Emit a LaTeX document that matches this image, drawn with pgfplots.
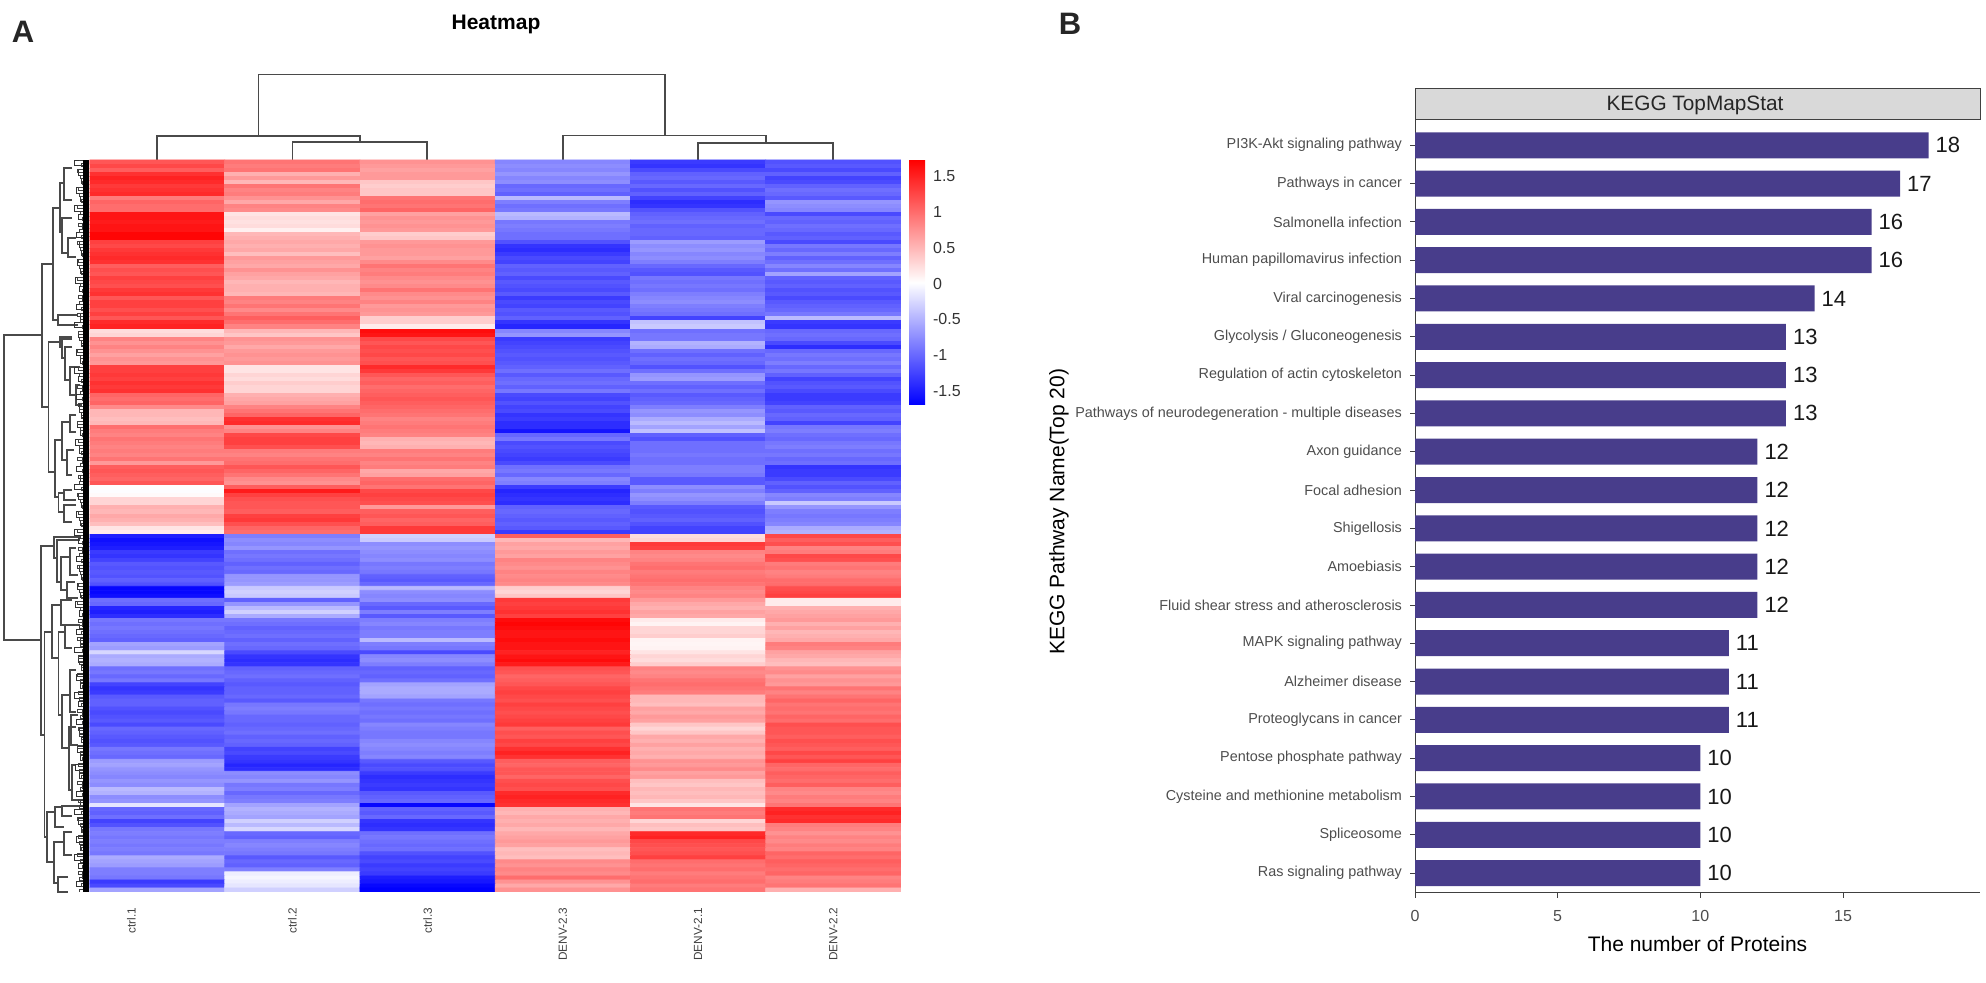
\documentclass[border=0pt]{standalone}
\usepackage{fontspec}
\setmainfont{Liberation Sans}
\usepackage{pgfplots}
\pgfplotsset{compat=1.18}
\definecolor{barblue}{HTML}{483D8B}
\definecolor{treegray}{HTML}{4A4A4A}
\definecolor{labgray}{HTML}{4D4D4D}
\pgfplotsset{/pgf/number format/assume math mode=true}
\begin{document}
\begin{tikzpicture}
\path[use as bounding box] (0pt,0pt) rectangle (993pt,491.5pt);
% page-sized axis in reference pixels: dendrograms, strip, titles
\begin{axis}[
  at={(0pt,0pt)}, anchor=south west, scale only axis,
  width=993pt, height=491.5pt,
  xmin=0, xmax=1986, ymin=0, ymax=983, y dir=reverse,
  hide axis, clip=false, unbounded coords=jump
]
% column tree
\addplot[treegray, line width=0.75pt, line join=miter, mark=none] coordinates {
(258.5,136) (258.5,74.5) (665,74.5) (665,135.7) (nan,nan)
(157,160) (157,136) (360,136) (360,142) (nan,nan)
(292.5,160) (292.5,142) (427,142) (427,160) (nan,nan)
(563,160) (563,135.7) (766,135.7) (766,143) (nan,nan)
(698,160) (698,143) (833,143) (833,160)
};
% row tree, upper branches
\addplot[treegray, line width=0.65pt, mark=none] coordinates {
(42,335) (4,335) (4,640) (41,640) (nan,nan)
(53,264) (42,264) (42,407) (48.5,407) (nan,nan)
(60,208) (53,208) (53,320) (58,320) (nan,nan)
(64,183) (60,183) (60,232) (62,232) (nan,nan)
(72,168) (64,168) (64,200) (72,200) (nan,nan)
(72,218) (62,218) (62,253) (68,253) (nan,nan)
(76,238) (68,238) (68,257) (76,257) (nan,nan)
(78,315) (58,315) (58,325) (78,325) (nan,nan)
(60,342) (48.5,342) (48.5,472) (55,472) (nan,nan)
(72,337) (60,337) (60,347) (62,347) (nan,nan)
(72,339) (62,339) (62,358) (65,358) (nan,nan)
(72,347) (65,347) (65,380) (70,380) (nan,nan)
(80,367) (70,367) (70,395) (76,395) (nan,nan)
(80,385) (76,385) (76,405) (82,405) (nan,nan)
(62,440) (55,440) (55,497) (58.5,497) (nan,nan)
(70,422) (62,422) (62,460) (67,460) (nan,nan)
(76,415) (70,415) (70,432) (76,432) (nan,nan)
(74,450) (67,450) (67,475) (72,475) (nan,nan)
(64,493) (58.5,493) (58.5,512) (64,512) (nan,nan)
(72,490) (64,490) (64,500) (76,500) (nan,nan)
(76,505) (64,505) (64,522) (72,522) (nan,nan)
(54,546) (41,546) (41,735) (44.5,735) (nan,nan)
(80,537) (54,537) (54,558) (57,558) (nan,nan)
(80,540) (57,540) (57,582) (61,582) (nan,nan)
(70,557) (61,557) (61,590) (67,590) (nan,nan)
(76,548) (70,548) (70,575) (78,575) (nan,nan)
(75,582) (67,582) (67,598) (78,598) (nan,nan)
(52,632) (44.5,632) (44.5,837) (47,837) (nan,nan)
(61,605) (52,605) (52,658) (58.5,658) (nan,nan)
(72,600) (61,600) (61,625) (66,625) (nan,nan)
(65,632) (58.5,632) (58.5,715) (62,715) (nan,nan)
(80,625) (65,625) (65,648) (72,648) (nan,nan)
(70,695) (62,695) (62,748) (69,748) (nan,nan)
(76,670) (70,670) (70,712) (76,712) (nan,nan)
(76,727) (69,727) (69,790) (72,790) (nan,nan)
(78,715) (71,715) (71,745) (78,745) (nan,nan)
(76,765) (72,765) (72,800) (80,800) (nan,nan)
(55,812) (47,812) (47,862) (54,862) (nan,nan)
(62,807) (55,807) (55,827) (64,827) (nan,nan)
(80,806) (62,806) (62,816) (72,816) (nan,nan)
(64,842) (54,842) (54,883) (58,883) (nan,nan)
(72,832) (64,832) (64,855) (72,855) (nan,nan)
(68,877) (58,877) (58,892) (68,892)
};
% row tree, leaf brackets
\addplot[black!80, line width=0.5pt, mark=none] coordinates {
(89,161)(74,161)(74,166)(89,166) (nan,nan) (89,170)(78,170)(78,176)(89,176) (nan,nan)
(89,179)(81,179)(81,184)(89,184) (nan,nan) (89,188)(76,188)(76,194)(89,194) (nan,nan)
(89,197)(80,197)(80,202)(89,202) (nan,nan) (89,206)(74,206)(74,212)(89,212) (nan,nan)
(89,215)(78,215)(78,220)(89,220) (nan,nan) (89,224)(82,224)(82,230)(89,230) (nan,nan)
(89,233)(76,233)(76,238)(89,238) (nan,nan) (89,242)(79,242)(79,248)(89,248) (nan,nan)
(89,251)(81,251)(81,256)(89,256) (nan,nan) (89,260)(77,260)(77,266)(89,266) (nan,nan)
(89,269)(80,269)(80,274)(89,274) (nan,nan) (89,278)(75,278)(75,284)(89,284) (nan,nan)
(89,287)(79,287)(79,292)(89,292) (nan,nan) (89,296)(82,296)(82,302)(89,302) (nan,nan)
(89,305)(76,305)(76,310)(89,310) (nan,nan) (89,314)(80,314)(80,320)(89,320) (nan,nan)
(89,323)(74,323)(74,328)(89,328) (nan,nan) (89,332)(78,332)(78,338)(89,338) (nan,nan)
(89,341)(81,341)(81,346)(89,346) (nan,nan) (89,350)(76,350)(76,356)(89,356) (nan,nan)
(89,359)(80,359)(80,364)(89,364) (nan,nan) (89,368)(74,368)(74,374)(89,374) (nan,nan)
(89,377)(78,377)(78,382)(89,382) (nan,nan) (89,386)(82,386)(82,392)(89,392) (nan,nan)
(89,395)(76,395)(76,400)(89,400) (nan,nan) (89,404)(79,404)(79,410)(89,410) (nan,nan)
(89,413)(81,413)(81,418)(89,418) (nan,nan) (89,422)(77,422)(77,428)(89,428) (nan,nan)
(89,431)(80,431)(80,436)(89,436) (nan,nan) (89,440)(75,440)(75,446)(89,446) (nan,nan)
(89,449)(79,449)(79,454)(89,454) (nan,nan) (89,458)(82,458)(82,464)(89,464) (nan,nan)
(89,467)(76,467)(76,472)(89,472) (nan,nan) (89,476)(80,476)(80,482)(89,482) (nan,nan)
(89,485)(74,485)(74,490)(89,490) (nan,nan) (89,494)(78,494)(78,500)(89,500) (nan,nan)
(89,503)(81,503)(81,508)(89,508) (nan,nan) (89,512)(76,512)(76,518)(89,518) (nan,nan)
(89,521)(80,521)(80,526)(89,526) (nan,nan) (89,530)(74,530)(74,536)(89,536) (nan,nan)
(89,539)(78,539)(78,544)(89,544) (nan,nan) (89,548)(82,548)(82,554)(89,554) (nan,nan)
(89,557)(76,557)(76,562)(89,562) (nan,nan) (89,566)(79,566)(79,572)(89,572) (nan,nan)
(89,575)(81,575)(81,580)(89,580) (nan,nan) (89,584)(77,584)(77,590)(89,590) (nan,nan)
(89,593)(80,593)(80,598)(89,598) (nan,nan) (89,602)(75,602)(75,608)(89,608) (nan,nan)
(89,611)(79,611)(79,616)(89,616) (nan,nan) (89,620)(82,620)(82,626)(89,626) (nan,nan)
(89,629)(76,629)(76,634)(89,634) (nan,nan) (89,638)(80,638)(80,644)(89,644) (nan,nan)
(89,647)(74,647)(74,652)(89,652) (nan,nan) (89,656)(78,656)(78,662)(89,662) (nan,nan)
(89,665)(81,665)(81,670)(89,670) (nan,nan) (89,674)(76,674)(76,680)(89,680) (nan,nan)
(89,683)(80,683)(80,688)(89,688) (nan,nan) (89,692)(74,692)(74,698)(89,698) (nan,nan)
(89,701)(78,701)(78,706)(89,706) (nan,nan) (89,710)(82,710)(82,716)(89,716) (nan,nan)
(89,719)(76,719)(76,724)(89,724) (nan,nan) (89,728)(79,728)(79,734)(89,734) (nan,nan)
(89,737)(81,737)(81,742)(89,742) (nan,nan) (89,746)(77,746)(77,752)(89,752) (nan,nan)
(89,755)(80,755)(80,760)(89,760) (nan,nan) (89,764)(75,764)(75,770)(89,770) (nan,nan)
(89,773)(79,773)(79,778)(89,778) (nan,nan) (89,782)(82,782)(82,788)(89,788) (nan,nan)
(89,791)(76,791)(76,796)(89,796) (nan,nan) (89,800)(80,800)(80,806)(89,806) (nan,nan)
(89,809)(74,809)(74,814)(89,814) (nan,nan) (89,818)(78,818)(78,824)(89,824) (nan,nan)
(89,827)(81,827)(81,832)(89,832) (nan,nan) (89,836)(76,836)(76,842)(89,842) (nan,nan)
(89,845)(80,845)(80,850)(89,850) (nan,nan) (89,854)(74,854)(74,860)(89,860) (nan,nan)
(89,863)(78,863)(78,868)(89,868) (nan,nan) (89,872)(82,872)(82,878)(89,878) (nan,nan)
(89,881)(76,881)(76,886)(89,886)
};
% finest splits, a staircase of small steps next to the leaves
\addplot[const plot, black!75, line width=0.45pt, mark=none] coordinates {
(79,160)(84,163)(81,166)(85,169)(77,172)(84,175)(80,178)(85,181)(82,184)(84,187)(78,190)(85,193)
(79,196)(84,199)(81,202)(85,205)(77,208)(84,211)(80,214)(85,217)(82,220)(84,223)(78,226)(85,229)
(79,232)(84,235)(81,238)(85,241)(77,244)(84,247)(80,250)(85,253)(82,256)(84,259)(78,262)(85,265)
(79,268)(84,271)(81,274)(85,277)(77,280)(84,283)(80,286)(85,289)(82,292)(84,295)(78,298)(85,301)
(79,304)(84,307)(81,310)(85,313)(77,316)(84,319)(80,322)(85,325)(82,328)(84,331)(78,334)(85,337)
(79,340)(84,343)(81,346)(85,349)(77,352)(84,355)(80,358)(85,361)(82,364)(84,367)(78,370)(85,373)
(79,376)(84,379)(81,382)(85,385)(77,388)(84,391)(80,394)(85,397)(82,400)(84,403)(78,406)(85,409)
(79,412)(84,415)(81,418)(85,421)(77,424)(84,427)(80,430)(85,433)(82,436)(84,439)(78,442)(85,445)
(79,448)(84,451)(81,454)(85,457)(77,460)(84,463)(80,466)(85,469)(82,472)(84,475)(78,478)(85,481)
(79,484)(84,487)(81,490)(85,493)(77,496)(84,499)(80,502)(85,505)(82,508)(84,511)(78,514)(85,517)
(79,520)(84,523)(81,526)(85,529)(77,532)(84,535)(80,538)(85,541)(82,544)(84,547)(78,550)(85,553)
(79,556)(84,559)(81,562)(85,565)(77,568)(84,571)(80,574)(85,577)(82,580)(84,583)(78,586)(85,589)
(79,592)(84,595)(81,598)(85,601)(77,604)(84,607)(80,610)(85,613)(82,616)(84,619)(78,622)(85,625)
(79,628)(84,631)(81,634)(85,637)(77,640)(84,643)(80,646)(85,649)(82,652)(84,655)(78,658)(85,661)
(79,664)(84,667)(81,670)(85,673)(77,676)(84,679)(80,682)(85,685)(82,688)(84,691)(78,694)(85,697)
(79,700)(84,703)(81,706)(85,709)(77,712)(84,715)(80,718)(85,721)(82,724)(84,727)(78,730)(85,733)
(79,736)(84,739)(81,742)(85,745)(77,748)(84,751)(80,754)(85,757)(82,760)(84,763)(78,766)(85,769)
(79,772)(84,775)(81,778)(85,781)(77,784)(84,787)(80,790)(85,793)(82,796)(84,799)(78,802)(85,805)
(79,808)(84,811)(81,814)(85,817)(77,820)(84,823)(80,826)(85,829)(82,832)(84,835)(78,838)(85,841)
(79,844)(84,847)(81,850)(85,853)(77,856)(84,859)(80,862)(85,865)(82,868)(84,871)(78,874)(85,877)
(79,880)(84,883)(81,886)(85,889)(79,892)
};
% leaf ends merge into a black band
\addplot[black, line width=3pt, mark=none] coordinates {(86,160) (86,892)};
% facet strip of panel B
\addplot[fill=gray!30, draw=black!75, line width=0.5pt, mark=none] coordinates {(1415,89) (1980,89) (1980,120) (1415,120)} -- cycle;
\node[font=\fontsize{10.4}{11}\selectfont, text=black!85] at (axis cs:1695,105) {KEGG TopMapStat};
\node[font=\fontsize{10.5}{11}\selectfont\bfseries] at (axis cs:496,24) {Heatmap};
\node[font=\fontsize{15.5}{16}\selectfont\bfseries, text=black!85] at (axis cs:23,32) {A};
\node[font=\fontsize{15.5}{16}\selectfont\bfseries, text=black!85] at (axis cs:1070,24) {B};
\end{axis}

% heatmap, rows 4 px high, read top to bottom, six values per row
\begin{axis}[
  at={(44.75pt,45.5pt)}, anchor=south west, scale only axis,
  width=405.75pt, height=366pt,
  xmin=-0.5, xmax=5.5, ymin=-0.5, ymax=181.5,
  axis line style={draw=none}, major tick length=0pt,
  ytick=\empty, xtick={-0.19,1,2,3,4,5},
  xticklabels={ctrl.1,ctrl.2,ctrl.3,DENV-2.3,DENV-2.1,DENV-2.2},
  x tick label style={rotate=90, anchor=east, font=\fontsize{5.9}{6}\selectfont, text=black!75, xshift=-4.5pt},
  colormap={bwr}{rgb255(0cm)=(0,0,255); rgb255(1cm)=(255,255,255); rgb255(2cm)=(255,0,0)},
  point meta min=-1.7, point meta max=1.73,
  colorbar,
  colorbar style={
    at={(parent axis.north east)}, anchor=north west, xshift=-4.5pt,
    scale only axis, width=8pt, height=122.5pt,
    ytick={-1.5,-1,-0.5,0,0.5,1,1.5},
    yticklabels={-1.5,-1,-0.5,0,0.5,1,1.5},
    yticklabel style={font=\fontsize{8}{8}\selectfont, text=black!80, xshift=0.5pt},
    major tick length=0pt, axis line style={draw=none}
  }
]
\addplot[matrix plot*, mesh/cols=6, point meta=explicit, mark=none]
  table[row sep=\\, header=false, x expr={mod(\coordindex,6)}, y expr={181-floor((\coordindex+0.5)/6)}, meta index=0] {
1.15\\.95\\.75\\-.8\\-1.3\\-1.15\\
1.25\\.9\\.7\\-.75\\-1.35\\-1.1\\
1.1\\.95\\.65\\-.8\\-1.2\\-1.2\\
1.4\\.55\\.7\\-.7\\-1.05\\-1.05\\
1.5\\.7\\.7\\-.8\\-1\\-1.25\\
1.45\\.5\\.4\\-.75\\-1.1\\-1.2\\
1.35\\.95\\.35\\-1\\-1\\-1.05\\
1.4\\.85\\.4\\-.95\\-1.15\\-.95\\
1.45\\.9\\.4\\-1.05\\-1.05\\-1\\
.9\\.75\\.95\\-.45\\-1.25\\-1.1\\
1.05\\.6\\1\\-.85\\-1.4\\-.7\\
1\\.85\\.95\\-.95\\-1.35\\-.75\\
1\\.8\\1.05\\-.9\\-1.15\\-.8\\
1.6\\.2\\.65\\-.45\\-1.05\\-1.2\\
1.6\\.25\\.75\\-.5\\-1\\-1\\
1.55\\.22\\.7\\-.9\\-.95\\-1.05\\
1.6\\.25\\.75\\-.85\\-1.05\\-.95\\
1.6\\.12\\.7\\-.9\\-1\\-1\\
1.7\\.5\\.35\\-.95\\-1\\-1.1\\
1.7\\.55\\.4\\-.95\\-1.05\\-1.05\\
1.3\\.6\\.7\\-1.15\\-.65\\-1.2\\
1.25\\.55\\.75\\-1.35\\-.75\\-.9\\
1.35\\.6\\.7\\-1.4\\-.7\\-1\\
1.4\\.45\\.7\\-1.3\\-.8\\-.85\\
1.45\\.7\\.65\\-1.2\\-.75\\-1.05\\
1.4\\.65\\.8\\-1.25\\-.85\\-.95\\
1.1\\.6\\.95\\-1.05\\-1\\-.8\\
1.2\\.75\\.85\\-1.1\\-1.1\\-.95\\
1.15\\.65\\.9\\-1.05\\-1.15\\-.6\\
1.3\\.6\\.8\\-1.2\\-.9\\-1.05\\
1.25\\.5\\.75\\-1.1\\-.95\\-1.1\\
1.2\\.55\\.8\\-1.15\\-.9\\-1.05\\
1.35\\.55\\.95\\-1.2\\-.95\\-1.15\\
1.4\\.5\\.8\\-1.1\\-.85\\-1.1\\
1.15\\.9\\.75\\-1.3\\-.8\\-1.2\\
1.3\\.85\\.85\\-1.2\\-.75\\-1.1\\
1.3\\.95\\.7\\-1.25\\-.85\\-1.05\\
1.2\\.8\\.75\\-1.1\\-.9\\-1\\
1.3\\.95\\.7\\-1.15\\-.95\\-.9\\
1.15\\1.1\\.35\\-1.05\\-1.25\\-.45\\
1.45\\1\\.35\\-1.35\\-.4\\-1.3\\
1.5\\.85\\.15\\-1.45\\-.35\\-1.35\\
.25\\.5\\1.65\\-.8\\-.95\\-1\\
.3\\.4\\1.6\\-.7\\-.9\\-.95\\
.85\\.75\\1.25\\-1.3\\-.9\\-1\\
.75\\.7\\1.15\\-1.25\\-.5\\-1.2\\
.85\\.6\\1.25\\-1.2\\-.55\\-1.4\\
.75\\.7\\1.2\\-1.15\\-.95\\-1\\
.65\\.75\\1.25\\-1.1\\-1.05\\-.9\\
.75\\.7\\1.15\\-1.15\\-.95\\-.95\\
.7\\.75\\1.2\\-1.1\\-1\\-.85\\
1.3\\.2\\1.45\\-1.05\\-1.15\\-1\\
1.3\\.2\\1.35\\-.95\\-.95\\-.9\\
1.35\\.3\\1.15\\-1.1\\-.7\\-1.05\\
1.3\\.25\\1.05\\-1\\-.65\\-1.25\\
1.4\\.35\\1.1\\-.95\\-.95\\-1.15\\
1.35\\.3\\1\\-1.05\\-1.05\\-1.1\\
1.4\\.3\\1.05\\-.9\\-.95\\-1.2\\
1.05\\.55\\1.1\\-1.2\\-1.1\\-1.3\\
1\\.6\\1.15\\-1.25\\-1.05\\-1.3\\
1.05\\.65\\1.1\\-1.15\\-1\\-1.25\\
.8\\.85\\1.05\\-1.25\\-.85\\-1.05\\
.5\\.95\\1\\-1.2\\-.7\\-1.1\\
.5\\1.05\\.95\\-1.35\\-.75\\-1\\
.45\\1.4\\.85\\-1.3\\-.55\\-1.05\\
.5\\1.45\\.9\\-1.4\\-.45\\-1.25\\
1\\.75\\.95\\-1.4\\-.6\\-.9\\
.9\\.85\\.9\\-1.55\\-.4\\-.85\\
.85\\1.25\\.85\\-1\\-1.05\\-.95\\
.95\\1.3\\.55\\-.9\\-1.15\\-1\\
.9\\1.3\\.5\\-1.2\\-.95\\-.9\\
.85\\1.2\\.55\\-1.15\\-.95\\-.85\\
.9\\.9\\.9\\-1.2\\-.95\\-.95\\
.85\\.85\\.85\\-1.25\\-.9\\-.9\\
.95\\.95\\.95\\-1.3\\-.95\\-1\\
.7\\1\\.85\\-1.2\\-.95\\-.95\\
1.1\\1.15\\.9\\-.95\\-.85\\-1.35\\
1.15\\1.05\\.6\\-.9\\-.85\\-1.3\\
1.1\\.95\\.65\\-1\\-.9\\-1.3\\
1.05\\.8\\1\\-.8\\-1.1\\-1.2\\
1.15\\.75\\1.05\\-.85\\-1.1\\-1.05\\
.03\\1.1\\.95\\-1.3\\-.75\\-1.15\\
0\\1.55\\1.25\\-1.45\\-.85\\-1.05\\
.05\\1.3\\1.3\\-1.4\\-.7\\-.8\\
.3\\1.2\\1.25\\-1.35\\-.75\\-.85\\
.3\\1.15\\1.2\\-1.4\\-.85\\-.35\\
.55\\1.15\\.7\\-1.05\\-1.1\\-.7\\
.5\\1.1\\1.1\\-1\\-1.15\\-.85\\
.6\\1.3\\1.15\\-1.05\\-1.1\\-.9\\
.55\\1.35\\1.05\\-1.1\\-1.05\\-.85\\
.45\\1.2\\1.1\\-1.05\\-1.15\\-.8\\
.2\\1.05\\1.35\\-1.1\\-1.25\\-.55\\
.15\\1\\1.35\\-1.3\\-1.25\\-.5\\
-1.5\\-.85\\-.3\\1.1\\.25\\1.25\\
-1.6\\-.75\\-.35\\.5\\.3\\1.1\\
-1.55\\-.8\\-.75\\.65\\1.35\\1.2\\
-1.5\\-.7\\-.7\\.6\\1.3\\.85\\
-1.3\\-.95\\-.75\\.7\\.85\\.9\\
-1.35\\-.9\\-.8\\.65\\.8\\1.25\\
-1.25\\-.95\\-.75\\.85\\.85\\1.2\\
-1.1\\-1.05\\-.9\\.8\\.95\\.9\\
-1.15\\-.95\\-.85\\.75\\1\\.95\\
-1.1\\-1\\-.9\\.85\\.9\\.85\\
-1.15\\-.7\\-1.05\\.8\\.95\\.9\\
-1.05\\-.7\\-1.1\\.85\\1\\1\\
-1.15\\-.65\\-1\\.8\\.95\\1\\
-1.65\\-.35\\-.45\\.35\\.85\\1.2\\
-1.65\\-.3\\-.75\\.3\\.8\\1.25\\
-1.6\\-.35\\-.8\\.4\\.85\\1.3\\
-.95\\-1.05\\-.75\\1.35\\.7\\.15\\
-1\\-.7\\-1\\1.3\\.6\\.15\\
-1.45\\-.45\\-1.1\\1.35\\.55\\.55\\
-1.5\\-.3\\-.85\\1.4\\.65\\.6\\
-1.4\\-.55\\-1.1\\1.3\\.6\\.65\\
-.9\\-.9\\-.85\\1.65\\.15\\.7\\
-.95\\-.95\\-.8\\1.7\\.1\\.55\\
-.9\\-1.05\\-.9\\1.65\\.3\\.65\\
-.95\\-1\\-.85\\1.6\\.3\\.5\\
-1\\-.95\\-.85\\1.6\\.35\\.55\\
-1.05\\-1.05\\-.45\\1.65\\.1\\.6\\
-.6\\-.95\\-.85\\1.6\\.08\\.9\\
-.65\\-1\\-.9\\1.6\\.1\\.85\\
-.25\\-1.2\\-1.2\\1.5\\.2\\.65\\
-.55\\-1.35\\-.8\\1.6\\.3\\.6\\
-.5\\-1.4\\-.75\\1.65\\.25\\.5\\
-.55\\-1.35\\-.85\\1.55\\.35\\.45\\
-.95\\-1.05\\-1.05\\1.2\\.85\\.75\\
-.9\\-1\\-1\\1.15\\.8\\.8\\
-1\\-.95\\-1.05\\1.05\\.85\\.65\\
-.9\\-1.05\\-.95\\1.1\\.95\\.75\\
-1.25\\-1.1\\-.6\\1.15\\1\\.7\\
-1.35\\-1.05\\-.55\\1.25\\.95\\.95\\
-1.3\\-1.05\\-.55\\1.3\\.9\\.85\\
-1.1\\-1\\-.6\\1.25\\.5\\.95\\
-1.05\\-1.1\\-.9\\1.2\\.5\\1.05\\
-1.05\\-.9\\-.95\\1.3\\.45\\.95\\
-1.15\\-.85\\-.9\\1.25\\.65\\1\\
-1.2\\-.9\\-.95\\1.2\\.6\\.95\\
-1.15\\-1\\-.9\\1.25\\.7\\1.05\\
-1.1\\-1\\-.95\\1.3\\.65\\1\\
-1.2\\-1.05\\-.8\\1.35\\.4\\1.2\\
-1\\-1\\-.85\\1.1\\.3\\1.15\\
-1.05\\-.95\\-.9\\1.2\\.4\\1.15\\
-1.1\\-1.05\\-.9\\1.15\\.6\\1.1\\
-1.15\\-1\\-.8\\1.3\\.55\\1.2\\
-1.1\\-1.05\\-.75\\1.25\\.65\\1.15\\
-.9\\-1.25\\-.8\\1.4\\.55\\1.1\\
-.95\\-1.2\\-.85\\1.5\\.6\\1.25\\
-1\\-1.3\\-.8\\1.4\\.55\\1.15\\
-.65\\-1.35\\-1.1\\1.1\\.75\\1.3\\
-.6\\-1.45\\-1.2\\1.05\\.7\\1.05\\
-.7\\-1.4\\-1.15\\1.15\\.8\\1\\
-.75\\-.75\\-1.3\\1.15\\.65\\1.1\\
-.8\\-.8\\-1.4\\1.05\\.7\\1.05\\
-.7\\-.7\\-1.35\\1.2\\.45\\1\\
-.75\\-.9\\-1.3\\1.25\\.4\\1.1\\
-.45\\-.85\\-1.35\\1.2\\.5\\.85\\
-.5\\-1\\-1.1\\1.45\\.45\\.8\\
-.75\\-.9\\-1.05\\1.5\\.5\\.9\\
-.7\\-.85\\-1\\1.45\\.4\\.85\\
-.15\\-.6\\-1.65\\1.4\\.2\\.95\\
-1\\-.5\\-1.05\\.55\\.95\\1.45\\
-1.05\\-.55\\-1.1\\.5\\.9\\1.5\\
-.95\\-.6\\-1\\.6\\.95\\1.4\\
-1.25\\-.3\\-1.35\\.55\\.3\\1.45\\
-1.15\\-.45\\-1.4\\.6\\.45\\.9\\
-.9\\-.25\\-1.35\\.5\\.4\\.85\\
-.85\\-1\\-.95\\.6\\1.45\\.75\\
-.9\\-1.05\\-.9\\.65\\1.5\\.85\\
-.85\\-.85\\-.95\\.7\\1.25\\.8\\
-.9\\-.8\\-1\\.65\\1.2\\.9\\
-.85\\-.85\\-.95\\.45\\1.15\\.85\\
-.9\\-.9\\-1.15\\.5\\1.2\\1.05\\
-.55\\-1.1\\-1.25\\.45\\1.3\\1\\
-.6\\-1\\-1.2\\.8\\1\\1.1\\
-.65\\-1.05\\-1.3\\.75\\.95\\1.05\\
-.85\\-.85\\-1.25\\.85\\1\\1\\
-.85\\-.1\\-1.3\\.8\\.9\\1.05\\
-.9\\-.05\\-1.5\\1\\.95\\.85\\
-1.3\\-.1\\-1.55\\.75\\1\\.9\\
-1.2\\-.15\\-1.65\\.6\\.9\\.95\\
-.6\\-.3\\-1.7\\.75\\.95\\.55\\
};
\end{axis}

% KEGG bars
\begin{axis}[
  at={(707.5pt,45pt)}, anchor=south west, scale only axis,
  width=282.5pt, height=386.5pt,
  xbar, bar width=13pt,
  xmin=0, xmax=19.8, ymin=-0.52, ymax=19.66,
  axis x line*=bottom, axis y line*=left,
  axis line style={-, draw=black!75, line width=0.5pt},
  tick align=outside, major tick length=2.5pt,
  tick style={draw=black!75, line width=0.4pt},
  xtick={0,5,10,15},
  ytick={0,...,19},
  yticklabels={Ras signaling pathway,Spliceosome,Cysteine and methionine metabolism,Pentose phosphate pathway,Proteoglycans in cancer,Alzheimer disease,MAPK signaling pathway,Fluid shear stress and atherosclerosis,Amoebiasis,Shigellosis,Focal adhesion,Axon guidance,Pathways of neurodegeneration - multiple diseases,Regulation of actin cytoskeleton,Glycolysis / Gluconeogenesis,Viral carcinogenesis,Human papillomavirus infection,Salmonella infection,Pathways in cancer,PI3K-Akt signaling pathway},
  y tick label style={font=\fontsize{7.2}{8}\selectfont, text=labgray, xshift=-0.5pt},
  x tick label style={font=\fontsize{8}{8}\selectfont, text=labgray, yshift=-2.5pt},
  xlabel={The number of Proteins},
  ylabel={KEGG Pathway Name(Top 20)},
  xlabel style={at={(axis description cs:0.5,-0.066)}, anchor=center, font=\fontsize{10.5}{11}\selectfont},
  ylabel style={at={(axis description cs:-0.63,0.493)}, anchor=center, font=\fontsize{10.5}{11}\selectfont},
  nodes near coords,
  every node near coord/.append style={font=\fontsize{11}{11}\selectfont, text=black!90},
  point meta=x
]
\addplot[fill=barblue, draw=none] coordinates {
(10,0) (10,1) (10,2) (10,3) (11,4) (11,5) (11,6) (12,7) (12,8) (12,9)
(12,10) (12,11) (13,12) (13,13) (13,14) (14,15) (16,16) (16,17) (17,18) (18,19)
};
\end{axis}
\end{tikzpicture}
\end{document}
